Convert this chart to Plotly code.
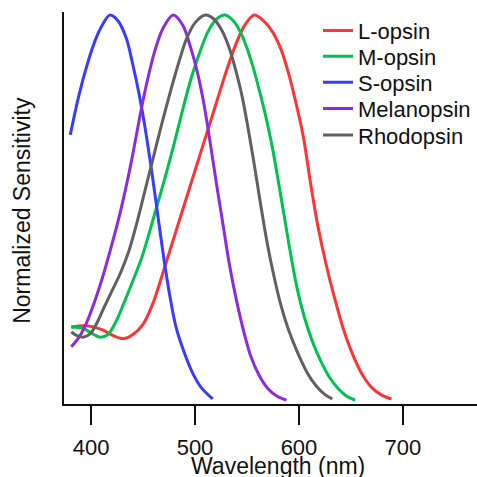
import plotly.graph_objects as go

# Normalized spectral sensitivity curves of the five opsins
l_wl = [381, 395, 410, 422, 431, 440, 450, 460, 470, 480, 490, 500, 510, 520, 530, 540,
        548, 557, 566, 575, 583, 590, 597, 604, 611, 618, 626, 634, 643, 652, 661, 670, 680, 689]
l_val = [0.198, 0.201, 0.192, 0.175, 0.168, 0.178, 0.205, 0.262, 0.345, 0.43, 0.515, 0.60,
         0.685, 0.77, 0.855, 0.93, 0.975, 1.0, 0.985, 0.955, 0.91, 0.85, 0.775, 0.69, 0.57,
         0.46, 0.36, 0.275, 0.19, 0.125, 0.075, 0.042, 0.022, 0.013]

m_wl = [381, 392, 400, 408, 416, 424, 432, 440, 448, 456, 464, 472, 480, 488, 496, 504,
        512, 520, 529, 537, 544, 550, 556, 562, 568, 574, 580, 586, 592, 598, 605, 613,
        621, 629, 637, 645, 654]
m_val = [0.198, 0.195, 0.183, 0.172, 0.178, 0.212, 0.262, 0.315, 0.37, 0.44, 0.515, 0.59,
         0.67, 0.755, 0.835, 0.90, 0.955, 0.988, 1.0, 0.985, 0.955, 0.915, 0.865, 0.805,
         0.74, 0.665, 0.575, 0.48, 0.385, 0.30, 0.225, 0.16, 0.11, 0.07, 0.042, 0.022, 0.010]

s_wl = [380, 388, 396, 404, 411, 418, 426, 434, 440, 446, 452, 458, 464, 470, 476, 482,
        490, 498, 506, 517]
s_val = [0.692, 0.79, 0.87, 0.935, 0.975, 1.0, 0.985, 0.94, 0.875, 0.80, 0.71, 0.605,
         0.49, 0.375, 0.275, 0.195, 0.13, 0.078, 0.042, 0.013]

mel_wl = [381, 388, 395, 403, 411, 419, 426, 433, 440, 447, 454, 461, 469, 479, 488, 496,
          503, 509, 515, 521, 527, 533, 540, 547, 554, 562, 570, 579, 588]
mel_val = [0.147, 0.17, 0.205, 0.26, 0.325, 0.40, 0.47, 0.55, 0.64, 0.74, 0.83, 0.905,
           0.965, 1.0, 0.975, 0.915, 0.845, 0.765, 0.665, 0.56, 0.46, 0.36, 0.265, 0.185,
           0.12, 0.072, 0.04, 0.02, 0.010]

rho_wl = [381, 387, 393, 399, 405, 412, 420, 428, 436, 444, 452, 460, 468, 476, 484, 492,
          500, 510, 518, 526, 533, 539, 545, 551, 557, 563, 569, 575, 582, 590, 599, 608,
          617, 625, 632]
rho_val = [0.185, 0.175, 0.172, 0.18, 0.205, 0.245, 0.29, 0.335, 0.39, 0.465, 0.55, 0.635,
           0.72, 0.80, 0.875, 0.94, 0.98, 1.0, 0.99, 0.96, 0.915, 0.86, 0.795, 0.71, 0.615,
           0.515, 0.42, 0.34, 0.26, 0.19, 0.13, 0.08, 0.045, 0.024, 0.013]

x_ticks = [400, 500, 600, 700]

series = [
    ("L-opsin", l_wl, l_val, "#ff3535"),
    ("M-opsin", m_wl, m_val, "#00c050"),
    ("S-opsin", s_wl, s_val, "#3b3bff"),
    ("Melanopsin", mel_wl, mel_val, "#8a2be2"),
    ("Rhodopsin", rho_wl, rho_val, "#606060"),
]

FONT = "Liberation Sans, Arial, sans-serif"
INK = "#111111"

fig = go.Figure()
legend_names = ["legend", "legend2", "legend3", "legend4", "legend5"]
for (name, wl, val, color), lg in zip(series, legend_names):
    fig.add_trace(go.Scatter(
        x=wl, y=val, name=name, mode="lines",
        line=dict(color=color, width=3, shape="spline", smoothing=0.9),
        legend=lg,
    ))

# one single-entry legend per row, stacked top-right
row_y = [1.006, 0.940, 0.874, 0.807, 0.739]
legend_layout = {}
for lg, yy in zip(legend_names, row_y):
    legend_layout[lg] = dict(
        x=0.615, y=yy, xanchor="left", yanchor="top",
        font=dict(family=FONT, size=22, color=INK),
        bgcolor="rgba(0,0,0,0)", borderwidth=0, itemwidth=30,
    )

axis_titles = [
    dict(text="Wavelength (nm)", textangle=0,
         xref="paper", yref="paper", x=0.519, y=-0.157,
         xanchor="center", yanchor="middle", showarrow=False,
         font=dict(family=FONT, size=23, color=INK)),
    dict(text="Normalized Sensitivity", textangle=-90,
         xref="paper", yref="paper", x=-0.102, y=0.495,
         xanchor="center", yanchor="middle", showarrow=False,
         font=dict(family=FONT, size=23, color=INK)),
]

fig.update_layout(
    width=477, height=477,
    margin=dict(l=64, r=0, t=12, b=73, autoexpand=False),
    paper_bgcolor="white", plot_bgcolor="white",
    showlegend=True,
    font=dict(family=FONT, size=22, color=INK),
    xaxis=dict(
        range=[374, 771.2],
        tickvals=x_ticks, ticktext=[str(v) for v in x_ticks],
        ticks="outside", ticklen=19, tickwidth=2, tickcolor=INK,
        ticklabelstandoff=4,
        showline=True, linewidth=2, linecolor=INK,
        showgrid=False, zeroline=False, automargin=False,
        tickfont=dict(family=FONT, size=22, color=INK),
    ),
    yaxis=dict(
        range=[0, 1.008],
        showticklabels=False, ticks="",
        showline=True, linewidth=2, linecolor=INK,
        showgrid=False, zeroline=False, automargin=False,
    ),
    annotations=axis_titles,
    **legend_layout,
)

fig.write_html("out.html")
